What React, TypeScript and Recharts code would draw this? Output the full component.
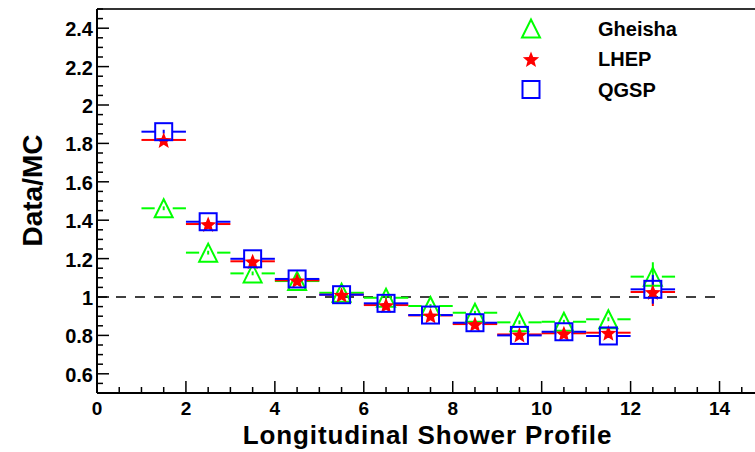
import { ScatterChart, Scatter, XAxis, YAxis, ReferenceLine, ErrorBar } from 'recharts'

// bin centres along the shower and the half width of each bin
const BINS = [1.5, 2.5, 3.5, 4.5, 5.5, 6.5, 7.5, 8.5, 9.5, 10.5, 11.5, 12.5]
const BIN_HALF = 0.5

// Data/MC ratio per bin for each physics list
const GHEISHA = [1.462, 1.231, 1.123, 1.083, 1.022, 0.996, 0.953, 0.918, 0.868, 0.871, 0.884, 1.106]
const LHEP = [1.818, 1.38, 1.186, 1.087, 1.012, 0.958, 0.904, 0.859, 0.805, 0.811, 0.814, 1.026]
const QGSP = [1.861, 1.392, 1.199, 1.094, 1.012, 0.967, 0.906, 0.866, 0.8, 0.819, 0.797, 1.04]

const GHEISHA_ERR = [0.01, 0.01, 0.01, 0.01, 0.01, 0.01, 0.01, 0.01, 0.01, 0.01, 0.01, 0.075]
const LHEP_ERR = [0.01, 0.01, 0.01, 0.01, 0.01, 0.01, 0.01, 0.01, 0.01, 0.01, 0.01, 0.073]
const QGSP_ERR = [0.01, 0.01, 0.01, 0.01, 0.01, 0.01, 0.01, 0.01, 0.01, 0.01, 0.01, 0.075]

const X_MAJOR = [0, 2, 4, 6, 8, 10, 12, 14]
const Y_MAJOR = [0.6, 0.8, 1, 1.2, 1.4, 1.6, 1.8, 2, 2.2, 2.4]

const X_DOMAIN: [number, number] = [0, 15]
const Y_DOMAIN: [number, number] = [0.5, 2.5]

// minor ticks: 4 per major step on both axes
const X_TICKS = Array.from({ length: 31 }, (_, i) => i * 0.5)
const Y_TICKS = Array.from({ length: 41 }, (_, i) => Math.round((0.5 + i * 0.05) * 100) / 100)

const W = 780
const H = 452
const LEFT = 97
const TOP = 9
const RIGHT = 16
const X_AXIS_H = 59
const BOTTOM = H - X_AXIS_H
const PX_PER_X = (W - LEFT - RIGHT) / (X_DOMAIN[1] - X_DOMAIN[0])

const FONT = '"Liberation Sans", Arial, Helvetica, sans-serif'

type Kind = 'triangle' | 'star' | 'square'

function starPoints(cx: number, cy: number, r: number, ri: number) {
  const pts: string[] = []
  for (let i = 0; i < 10; i++) {
    const rad = i % 2 === 0 ? r : ri
    const a = -Math.PI / 2 + (i * Math.PI) / 5
    pts.push(`${cx + rad * Math.cos(a)},${cy + 1 + rad * Math.sin(a)}`)
  }
  return pts.join(' ')
}

function Marker({ kind, cx, cy, color }: { kind: Kind; cx: number; cy: number; color: string }) {
  if (kind === 'triangle') {
    return (
      <polygon
        points={`${cx},${cy - 9} ${cx - 9},${cy + 9} ${cx + 9},${cy + 9}`}
        fill="none" stroke={color} strokeWidth={2}
      />
    )
  }
  if (kind === 'square') {
    return <rect x={cx - 8.5} y={cy - 8.5} width={17} height={17} fill="none" stroke={color} strokeWidth={2} />
  }
  return <polygon points={starPoints(cx, cy, 8.6, 3.7)} fill={color} stroke="none" />
}

const SERIES = [
  { name: 'Gheisha', values: GHEISHA, errs: GHEISHA_ERR, color: '#00ff00', kind: 'triangle' as Kind, gap: 9 },
  { name: 'LHEP', values: LHEP, errs: LHEP_ERR, color: '#ff0000', kind: 'star' as Kind, gap: 7.5 },
  { name: 'QGSP', values: QGSP, errs: QGSP_ERR, color: '#0000ff', kind: 'square' as Kind, gap: 8.5 },
]

function XTick(props: any) {
  const { x, payload } = props
  const v = payload.value as number
  const major = X_MAJOR.includes(v)
  return (
    <g>
      <line x1={x} x2={x} y1={BOTTOM} y2={BOTTOM - (major ? 12 : 6)} stroke="#000" strokeWidth={1.5} />
      {major && (
        <text x={x} y={BOTTOM + 22} textAnchor="middle" fontFamily={FONT} fontWeight="bold" fontSize={19} fill="#000">
          {v}
        </text>
      )}
    </g>
  )
}

function YTick(props: any) {
  const { y, payload } = props
  const v = payload.value as number
  const major = Y_MAJOR.some(m => Math.abs(m - v) < 1e-6)
  return (
    <g>
      <line x1={LEFT} x2={LEFT + (major ? 12 : 6)} y1={y} y2={y} stroke="#000" strokeWidth={1.5} />
      {major && (
        <text x={LEFT - 4} y={y + 8} textAnchor="end" fontFamily={FONT} fontWeight="bold" fontSize={20} fill="#000">
          {String(Number(v.toFixed(2)))}
        </text>
      )}
    </g>
  )
}

export default function App() {
  return (
    <div style={{ position: 'absolute', left: 0, top: 0, width: 755, height: 452, overflow: 'hidden', background: '#fff' }}>
      <ScatterChart width={W} height={H} margin={{ top: TOP, right: RIGHT, bottom: 0, left: 0 }}>
        <XAxis
          type="number" dataKey="x" domain={X_DOMAIN} ticks={X_TICKS} interval={0}
          allowDataOverflow height={X_AXIS_H} tickLine={false} tick={XTick}
          axisLine={{ stroke: '#000', strokeWidth: 2 }}
        />
        <YAxis
          type="number" dataKey="y" domain={Y_DOMAIN} ticks={Y_TICKS} interval={0}
          allowDataOverflow width={LEFT} tickLine={false} tick={YTick}
          axisLine={{ stroke: '#000', strokeWidth: 2 }}
        />
        <ReferenceLine y={2.5} stroke="#333" strokeWidth={2} />
        <ReferenceLine
          segment={[{ x: 0, y: 1 }, { x: 14, y: 1 }]}
          stroke="#404040" strokeWidth={2} strokeDasharray="10 9"
        />

        {/* horizontal bin-width bars, broken where the marker sits */}
        {SERIES.map(s =>
          BINS.map((bx, i) => {
            const g = s.gap / PX_PER_X
            const y = s.values[i]
            return [
              <ReferenceLine
                key={`${s.name}-l-${i}`}
                segment={[{ x: bx - BIN_HALF, y }, { x: bx - g, y }]}
                stroke={s.color} strokeWidth={2}
              />,
              <ReferenceLine
                key={`${s.name}-r-${i}`}
                segment={[{ x: bx + g, y }, { x: bx + BIN_HALF, y }]}
                stroke={s.color} strokeWidth={2}
              />,
            ]
          })
        )}

        {SERIES.map(s => (
          <Scatter
            key={s.name}
            name={s.name}
            data={BINS.map((x, i) => ({ x, y: s.values[i], err: s.errs[i] }))}
            isAnimationActive={false}
            shape={(p: any) => <Marker kind={s.kind} cx={p.cx} cy={p.cy} color={s.color} />}
          >
            <ErrorBar dataKey="err" direction="y" width={0} stroke={s.color} strokeWidth={2} isAnimationActive={false} />
          </Scatter>
        ))}

        {/* legend */}
        {SERIES.map((s, i) => (
          <g key={`leg-${s.name}`}>
            <Marker kind={s.kind} cx={531} cy={28.5 + i * 30.5} color={s.color} />
            <text x={598} y={36 + i * 30.3} fontFamily={FONT} fontWeight="bold" fontSize={20} fill="#000">
              {s.name}
            </text>
          </g>
        ))}

        <text
          x={42} y={190.5} transform="rotate(-90, 42, 190.5)" textAnchor="middle"
          fontFamily={FONT} fontWeight="bold" fontSize={28} fill="#000"
        >
          Data/MC
        </text>
        <text
          x={427.5} y={444} textAnchor="middle" fontFamily={FONT} fontWeight="bold"
          fontSize={26} letterSpacing={0.9} fill="#000"
        >
          Longitudinal Shower Profile
        </text>
      </ScatterChart>
    </div>
  )
}
